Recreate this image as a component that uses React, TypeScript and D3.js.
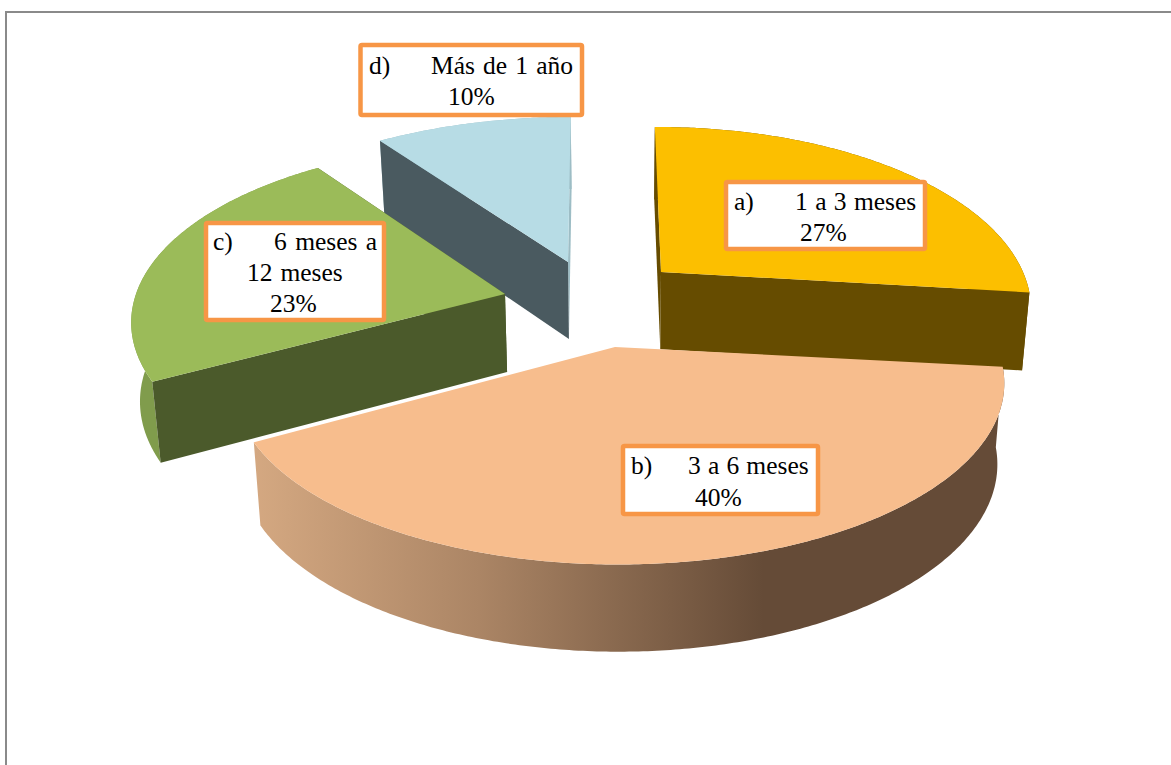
import React from "react";
import * as d3 from "d3";

const categories = ["a)", "b)", "c)", "d)"];
const shares = [27, 40, 23, 10];
const topColors = ["#fcbf00", "#f7bd8d", "#9bbb59", "#b7dce5"];
const startWallColors = ["#664c00", "none", "#4b5a2b", "#4a5a60"];
const endWallColors = ["#664c00", "none", "#4b5a2b", "#9dbdc5"];
const rimColors = ["#664c00", "url(#rimB)", "#809c4c", "#9dbdc5"];

// Layout of each exploded slice on the page
const apexX = [661, 615, 505, 568];
const apexY = [272, 347, 294, 262];
const radiusX = [362, 378, 369, 376];
const lean = [-3, 0, 0, 2.7];
const spin = [-0.6, -0.8, 1, 0];
const rimShift = [0, 3.5, 0, 0];
const perspective = [0.2, 0.2, 0.16, 0.2];
const paintOrder = [3, 0, 2, 1];

const radiusZ = 174;
const vanishX = 620;

type Pt = [number, number];

const project = (i: number, angle: number, r = 1): Pt => {
  const a = angle + (spin[i] * Math.PI) / 180;
  const X = r * Math.sin(a);
  const Z = r * Math.cos(a);
  const s = 1 / (1 + perspective[i] * Z);
  return [
    apexX[i] + radiusX[i] * X * s + lean[i] * Z + rimShift[i] * r,
    apexY[i] - radiusZ * Z * s,
  ];
};
const drop = ([x, y]: Pt): Pt => [
  vanishX + (x - vanishX) * 0.982,
  y + 68 + 0.034 * y,
];

const pieArcs = d3
  .pie<number>()
  .sort(null)
  .value((d) => d)
  .startAngle(0)
  .endAngle(2 * Math.PI)(shares);

const closed = d3.line<Pt>().x((d) => d[0]).y((d) => d[1]);
const pathOf = (pts: Pt[]) => closed(pts) + "Z";

const arcPoints = (i: number, a0: number, a1: number): Pt[] => {
  const n = Math.ceil((a1 - a0) / 0.01);
  return d3.range(n + 1).map((k) => project(i, a0 + ((a1 - a0) * k) / n));
};

type Label = { box: [number, number, number, number]; lines: { t: string; x: number; y: number; ws?: number }[] };
const labels: Label[] = [
  {
    box: [726, 182, 199, 67],
    lines: [
      { t: categories[0], x: 734, y: 210 },
      { t: "1 a 3 meses", x: 795, y: 210, ws: 1 },
      { t: "27%", x: 800, y: 241 },
    ],
  },
  {
    box: [623, 446, 195, 68],
    lines: [
      { t: categories[1], x: 631, y: 474 },
      { t: "3 a 6 meses", x: 688, y: 474, ws: 0.8 },
      { t: "40%", x: 695, y: 506 },
    ],
  },
  {
    box: [206, 223, 178, 97],
    lines: [
      { t: categories[2], x: 213, y: 250 },
      { t: "6 meses a", x: 274, y: 250, ws: 2 },
      { t: "12 meses", x: 247, y: 281, ws: 1.5 },
      { t: "23%", x: 270, y: 312 },
    ],
  },
  {
    box: [360.5, 45, 221.5, 70],
    lines: [
      { t: categories[3], x: 369, y: 74 },
      { t: "Más de 1 año", x: 431, y: 74, ws: 1.8 },
      { t: "10%", x: 448, y: 105 },
    ],
  },
];

export default function App() {
  return (
    <svg
      width={1171}
      height={765}
      viewBox="0 0 1171 765"
      style={{ position: "absolute", left: 0, top: 0, background: "#fff" }}
    >
      <defs>
        <linearGradient id="rimB" gradientUnits="userSpaceOnUse" x1={255} x2={1003} y1={0} y2={0}>
          <stop offset="0" stopColor="#d4a881" />
          <stop offset="0.3" stopColor="#ab8565" />
          <stop offset="0.68" stopColor="#654b37" />
          <stop offset="1" stopColor="#654b37" />
        </linearGradient>
      </defs>
      <path d="M6,765V12H1171" fill="none" stroke="#8a8a8a" strokeWidth={2} />
      {paintOrder.map((i) => {
        const { startAngle: a0, endAngle: a1 } = pieArcs[i];
        const rim = arcPoints(i, a0, a1);
        const apex = project(i, 0, 0);
        const first = rim[0];
        const last = rim[rim.length - 1];
        return (
          <g key={categories[i]}>
            <path d={pathOf([...rim, ...rim.map(drop).reverse()])} fill={rimColors[i]} />
            <path d={pathOf([apex, last, drop(last), drop(apex)])} fill={endWallColors[i]} />
            <path d={pathOf([apex, first, drop(first), drop(apex)])} fill={startWallColors[i]} />
            <path d={pathOf([apex, ...rim])} fill={topColors[i]} />
          </g>
        );
      })}
      {labels.map((l, i) => (
        <g key={i}>
          <rect
            x={l.box[0]}
            y={l.box[1]}
            width={l.box[2]}
            height={l.box[3]}
            rx={1.5}
            fill="#fff"
            stroke="#f79646"
            strokeWidth={4.5}
          />
          {l.lines.map((t) => (
            <text
              key={t.t}
              x={t.x}
              y={t.y}
              fontFamily="'Liberation Serif', serif"
              fontSize={25.5}
              fill="#000"
              wordSpacing={t.ws ?? 0}
            >
              {t.t}
            </text>
          ))}
        </g>
      ))}
    </svg>
  );
}
